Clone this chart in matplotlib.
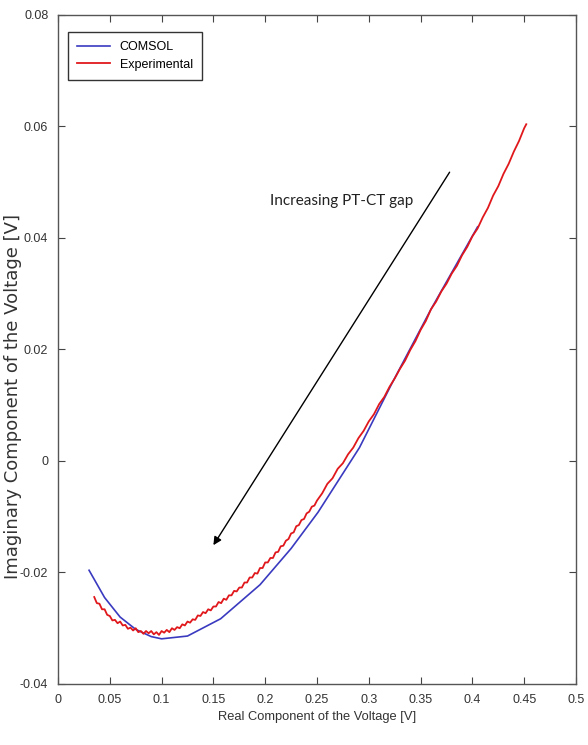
import matplotlib
matplotlib.use("Agg")
import matplotlib.pyplot as plt
import numpy as np

plt.rcParams["font.family"] = ["Liberation Sans Narrow", "Liberation Sans", "DejaVu Sans"]

################################################################################
# Data.                                          #
################################################################################
# COMSOL model (piecewise linear)
comsol_x = [0.030, 0.045, 0.060, 0.075, 0.090, 0.100, 0.125, 0.157, 0.195,
            0.225, 0.251, 0.291, 0.322, 0.360, 0.405]
comsol_y = [-0.0196, -0.0245, -0.0280, -0.0302, -0.0315, -0.0319, -0.0314,
            -0.0283, -0.0222, -0.0157, -0.0092, 0.0024, 0.0138, 0.0272, 0.0420]

# Experimental (noisy measurement)
exp_x = [0.0350, 0.0375, 0.0400, 0.0425, 0.0450, 0.0475, 0.0500, 0.0525,
         0.0550, 0.0575, 0.0600, 0.0625, 0.0650, 0.0675, 0.0700, 0.0725,
         0.0750, 0.0775, 0.0800, 0.0825, 0.0850, 0.0875, 0.0900, 0.0925,
         0.0950, 0.0975, 0.1000, 0.1025, 0.1050, 0.1075, 0.1100, 0.1125,
         0.1150, 0.1175, 0.1200, 0.1225, 0.1250, 0.1275, 0.1300, 0.1325,
         0.1350, 0.1375, 0.1400, 0.1425, 0.1450, 0.1475, 0.1500, 0.1525,
         0.1550, 0.1575, 0.1600, 0.1625, 0.1650, 0.1675, 0.1700, 0.1725,
         0.1750, 0.1775, 0.1800, 0.1825, 0.1850, 0.1875, 0.1900, 0.1925,
         0.1950, 0.1975, 0.2000, 0.2025, 0.2050, 0.2075, 0.2100, 0.2125,
         0.2150, 0.2175, 0.2200, 0.2225, 0.2250, 0.2275, 0.2300, 0.2325,
         0.2350, 0.2375, 0.2400, 0.2425, 0.2450, 0.2475, 0.2500,
         0.255, 0.260, 0.265, 0.270, 0.275, 0.280, 0.285, 0.290, 0.295,
         0.300, 0.305, 0.310, 0.315, 0.320, 0.325, 0.330, 0.335, 0.340,
         0.345, 0.350, 0.355, 0.360, 0.365, 0.370, 0.375, 0.380, 0.385,
         0.390, 0.395, 0.400, 0.405, 0.410, 0.415, 0.420, 0.425, 0.430,
         0.435, 0.440, 0.445, 0.450, 0.452]
exp_y = [-0.0244, -0.0255, -0.0256, -0.0266, -0.0266, -0.0276, -0.0278, -0.0286,
         -0.0285, -0.0291, -0.0288, -0.0295, -0.0294, -0.0301, -0.0299, -0.0304,
         -0.0300, -0.0307, -0.0305, -0.0310, -0.0305, -0.0309, -0.0305, -0.0311,
         -0.0307, -0.0312, -0.0305, -0.0308, -0.0303, -0.0307, -0.0300, -0.0303,
         -0.0298, -0.0300, -0.0293, -0.0295, -0.0288, -0.0290, -0.0284, -0.0285,
         -0.0277, -0.0278, -0.0271, -0.0273, -0.0266, -0.0268, -0.0261, -0.0261,
         -0.0253, -0.0255, -0.0247, -0.0249, -0.0241, -0.0241, -0.0233, -0.0234,
         -0.0227, -0.0227, -0.0218, -0.0218, -0.0209, -0.0209, -0.0201, -0.0202,
         -0.0192, -0.0192, -0.0182, -0.0182, -0.0174, -0.0174, -0.0164, -0.0163,
         -0.0153, -0.0152, -0.0143, -0.0140, -0.0130, -0.0128, -0.0117, -0.0115,
         -0.0106, -0.0104, -0.0094, -0.0091, -0.0082, -0.0080, -0.0071,
         -0.0058, -0.0041, -0.0031, -0.0014, -0.0004, 0.0012, 0.0024, 0.0041, 0.0054,
         0.0071, 0.0084, 0.0102, 0.0115, 0.0133, 0.0148, 0.0165, 0.0180, 0.0199,
         0.0215, 0.0235, 0.0251, 0.0272, 0.0286, 0.0304, 0.0318, 0.0336, 0.0350,
         0.0369, 0.0384, 0.0403, 0.0417, 0.0437, 0.0454, 0.0476, 0.0493, 0.0515,
         0.0533, 0.0555, 0.0574, 0.0597, 0.0604]

xticks = [0, 0.05, 0.1, 0.15, 0.2, 0.25, 0.3, 0.35, 0.4, 0.45, 0.5]
xtick_labels = ["0", "0.05", "0.1", "0.15", "0.2", "0.25", "0.3", "0.35", "0.4", "0.45", "0.5"]
yticks = [-0.04, -0.02, 0, 0.02, 0.04, 0.06, 0.08]
ytick_labels = ["-0.04", "-0.02", "0", "0.02", "0.04", "0.06", "0.08"]

arrow_tail = (0.378, 0.0518)
arrow_head = (0.150, -0.0151)

################################################################################
# Plot.                                                                        #
################################################################################
fig = plt.figure(figsize=(5.88, 7.45), dpi=100)
ax = fig.add_axes([0.0986, 0.0819, 0.881, 0.898])

ax.plot(comsol_x, comsol_y, "-", c="#3a3ac0", lw=1.2, label="COMSOL")
ax.plot(exp_x, exp_y, "-", c="#e0181c", lw=1.3, label="Experimental")

ax.annotate("", xy=arrow_head, xytext=arrow_tail,
            arrowprops=dict(arrowstyle="-|>", color="black", lw=1.0,
                            mutation_scale=12, shrinkA=0, shrinkB=0))
ax.text(0.2046, 0.0466, "Increasing PT-CT gap", fontsize=11,
        family=["Lato", "DejaVu Sans"], color="#222222", va="center", ha="left")

ax.set_xlim(0, 0.5)
ax.set_ylim(-0.04, 0.08)
ax.set_xticks(xticks)
ax.set_xticklabels(xtick_labels)
ax.set_yticks(yticks)
ax.set_yticklabels(ytick_labels)
ax.tick_params(direction="in", length=5, width=0.8, top=True, right=True,
               labelsize=9, colors="#444444", labelcolor="#333333", pad=7)
for s in ax.spines.values():
    s.set_color("#555555")
    s.set_linewidth(1.0)

ax.set_xlabel("Real Component of the Voltage [V]", fontsize=9.3, color="#333333")
ax.xaxis.set_label_coords(0.5, -0.041)
ax.set_ylabel("Imaginary Component of the Voltage [V]", fontsize=13,
              family=["DejaVu Sans"], color="#333333")
ax.yaxis.set_label_coords(-0.07, 0.43)

leg = ax.legend(loc="upper left", bbox_to_anchor=(0.019, 0.975),
                borderaxespad=0, fontsize=9, handlelength=2.6,
                fancybox=False, framealpha=1, edgecolor="#333333",
                borderpad=0.75, labelspacing=0.45)
leg.get_frame().set_linewidth(1.0)

fig.savefig("out.png", dpi=100)
